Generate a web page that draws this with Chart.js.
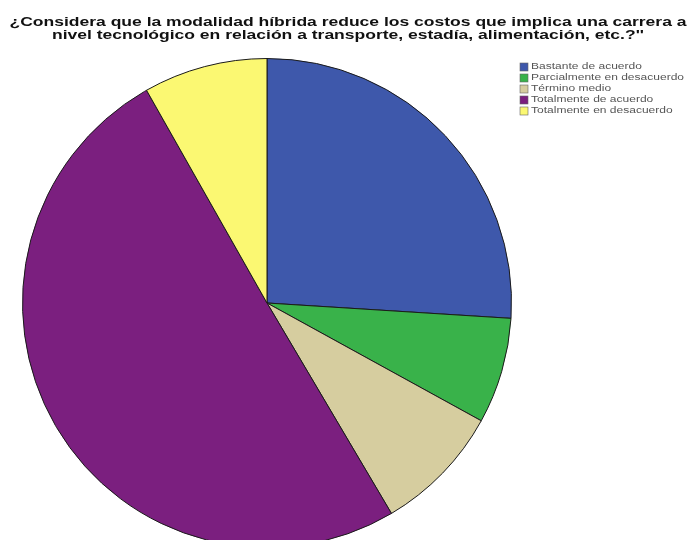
<!DOCTYPE html>
<html>
<head>
<meta charset="utf-8">
<script src="https://cdn.jsdelivr.net/npm/chart.js@4"></script>
<style>
  html, body { margin: 0; padding: 0; background: #fff; overflow: hidden; }
</style>
</head>
<body>
<canvas id="myChart" width="689" height="560"></canvas>
<script>
var labelsData = ['Bastante de acuerdo', 'Parcialmente en desacuerdo', 'Término medio', 'Totalmente de acuerdo', 'Totalmente en desacuerdo'];
var dataData = [26, 7, 8.5, 50.3, 8.2];
var colorsData = ['#3e58ab', '#39b24a', '#d6cd9f', '#7b1f7f', '#fbf872'];
var titleLines = [
    '¿Considera que la modalidad híbrida reduce los costos que implica una carrera a',
    'nivel tecnológico en relación a transporte, estadía, alimentación, etc.?\'\''
];

// draws text squeezed/stretched horizontally so it spans the given width
function wideText(c, text, cx, y, width) {
    var w = c.measureText(text).width;
    var k = width / w;
    c.save();
    c.translate(cx, y);
    c.scale(k, 1);
    c.fillText(text, 0, 0);
    c.restore();
}

// title and small legend box in the top right corner
var textPlugin = {
    id: 'texts',
    afterDraw: function (chart) {
        var c = chart.ctx;
        c.save();
        c.fillStyle = '#111';
        c.font = 'bold 13px "Liberation Sans", Arial, sans-serif';
        c.textAlign = 'center';
        c.textBaseline = 'middle';
        var k = 677 / c.measureText(titleLines[0]).width;
        wideText(c, titleLines[0], 348, 22, 677);
        wideText(c, titleLines[1], 348, 35, c.measureText(titleLines[1]).width * k);

        c.font = '8.5px "Liberation Sans", Arial, sans-serif';
        c.textAlign = 'left';
        var lk = 153 / c.measureText(labelsData[1]).width;
        for (var i = 0; i < labelsData.length; i++) {
            var y = 67 + i * 11;
            c.fillStyle = colorsData[i];
            c.fillRect(520, y - 4, 8, 8);
            c.strokeStyle = '#666';
            c.lineWidth = 0.6;
            c.strokeRect(520, y - 4, 8, 8);
            c.fillStyle = '#555';
            c.save();
            c.translate(531, y);
            c.scale(lk, 1);
            c.fillText(labelsData[i], 0, 0);
            c.restore();
        }
        c.restore();
    }
};

var ctx = document.getElementById('myChart').getContext('2d');

var myChart = new Chart(ctx, {
    type: 'pie',
    data: {
        labels: labelsData,
        datasets: [{
            data: dataData,
            backgroundColor: colorsData,
            borderColor: '#1a1a1a',
            borderWidth: 1
        }]
    },
    options: {
        responsive: false,
        animation: false,
        layout: {
            padding: { left: 22, right: 177, top: 58, bottom: 12 }
        },
        plugins: {
            legend: { display: false },
            tooltip: { enabled: false }
        }
    },
    plugins: [textPlugin]
});
</script>
</body>
</html>
